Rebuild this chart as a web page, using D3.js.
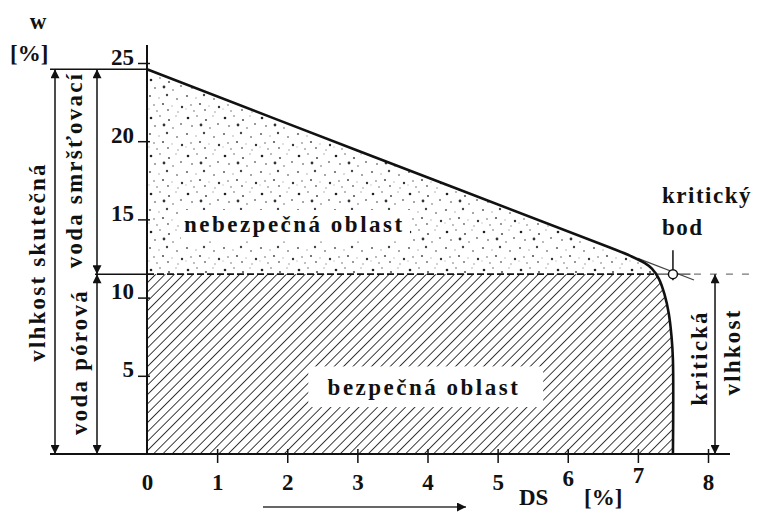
<!DOCTYPE html>
<html><head><meta charset="utf-8">
<script src="https://cdn.jsdelivr.net/npm/d3@7"></script>
<style>
body{margin:0;background:#fff;}
svg{display:block;font-family:"Liberation Serif","Times New Roman",serif;font-weight:bold;}
</style></head><body>
<svg id="c" width="757" height="513"></svg>
<script>
// ---- data ----
const xTicks = [0,1,2,3,4,5,6,7,8];
const yTicks = [5,10,15,20,25];
const curveDS = [0, 3, 6.6, 6.9, 7.1, 7.2, 7.3, 7.38, 7.44, 7.48, 7.5, 7.5];
const curveW  = [24.6, 19.4, 13.2, 12.65, 12.2, 11.85, 11.2, 10.2, 9.0, 7.5, 6.0, 0];
const wStart = 24.6;       // skutečná vlhkost
const criticalDS = 7.5;    // kritický bod
const criticalW = 11.5;    // kritická vlhkost
const areaLabels = ["nebezpečná oblast", "bezpečná oblast"];
const leftLabels = ["vlhkost skutečná", "voda smršťovací", "voda pórová"];
const rightLabels = ["kritická", "vlhkost"];
const pointLabels = ["kritický", "bod"];
const axisLabels = ["w", "[%]", "DS", "[%]"];

// ---- scales ----
const svg = d3.select("#c");
const x = d3.scaleLinear().domain([0, 8]).range([147, 708]);
const y = d3.scaleLinear().domain([0, 25]).range([454, 63]);
const ink = "#111";

const defs = svg.append("defs");
// stipple pattern (fixed texture tile)
const dots = [[3,4,1.3,"#222"],[12,2,0.9,"#999"],[21,6,1.1,"#555"],[28,2,0.8,"#aaa"],
  [7,12,1.0,"#888"],[16,11,1.4,"#333"],[25,14,0.9,"#999"],[2,20,1.1,"#666"],
  [11,22,0.8,"#aaa"],[19,19,1.2,"#444"],[29,23,1.0,"#888"],[6,29,0.9,"#999"],
  [15,28,1.1,"#555"],[24,30,0.8,"#bbb"],[33,10,1.0,"#777"],[34,31,1.2,"#333"],
  [9,35,1.0,"#aaa"],[20,34,0.9,"#666"],[30,36,0.8,"#999"],[1,33,0.7,"#bbb"]];
const dp = defs.append("pattern").attr("id","dots").attr("patternUnits","userSpaceOnUse")
  .attr("width",37).attr("height",38);
dp.selectAll("circle").data(dots).join("circle")
  .attr("cx",d=>d[0]).attr("cy",d=>d[1]).attr("r",d=>d[2]).attr("fill",d=>d[3]);
// hatch pattern
const hp = defs.append("pattern").attr("id","hatch").attr("patternUnits","userSpaceOnUse")
  .attr("width",6.6).attr("height",6.6).attr("patternTransform","rotate(45)");
hp.append("rect").attr("width",6.6).attr("height",6.6).attr("fill","#fff");
hp.append("line").attr("x1",0).attr("y1",0).attr("x2",0).attr("y2",6.6)
  .attr("stroke","#1a1a1a").attr("stroke-width",1.7);
// arrow marker
defs.append("marker").attr("id","arr").attr("viewBox","0 0 10 10").attr("refX",10).attr("refY",5)
  .attr("markerWidth",10).attr("markerHeight",9).attr("markerUnits","userSpaceOnUse")
  .attr("orient","auto-start-reverse")
  .append("path").attr("d","M0,0 L10,5 L0,10 Z").attr("fill",ink);

const pts = curveDS.map((d,i)=>[d, curveW[i]]);
// clips
defs.append("clipPath").attr("id","lower").append("rect")
  .attr("x",0).attr("y",y(criticalW)).attr("width",757).attr("height",y(0)-y(criticalW));
defs.append("clipPath").attr("id","upper").append("rect")
  .attr("x",0).attr("y",0).attr("width",757).attr("height",y(criticalW));

const area = d3.area().x(d=>x(d[0])).y0(y(0)).y1(d=>y(d[1])).curve(d3.curveCatmullRom.alpha(0.5));
svg.append("path").datum(pts).attr("d",area).attr("fill","url(#dots)").attr("clip-path","url(#upper)");
svg.append("path").datum(pts).attr("d",area).attr("fill","url(#hatch)").attr("clip-path","url(#lower)");

// white boxes behind area labels
svg.append("rect").attr("x",x(2.3)).attr("y",y(5.6)).attr("width",x(5.65)-x(2.3)).attr("height",y(3.0)-y(5.6))
  .attr("fill","#fff");
svg.append("rect").attr("x",x(0.48)).attr("y",y(15.6)).attr("width",x(3.75)-x(0.48)).attr("height",y(13.6)-y(15.6))
  .attr("fill","#fff");

// critical horizontal line
svg.append("line").attr("x1",95).attr("x2",x(0)).attr("y1",y(criticalW)).attr("y2",y(criticalW))
  .attr("stroke",ink).attr("stroke-width",1.5);
svg.append("line").attr("x1",x(0)).attr("x2",x(7.25)).attr("y1",y(criticalW)).attr("y2",y(criticalW))
  .attr("stroke",ink).attr("stroke-width",1.6).attr("stroke-dasharray","7,3");
svg.append("line").attr("x1",x(7.25)).attr("x2",x(7.75)).attr("y1",y(criticalW)).attr("y2",y(criticalW))
  .attr("stroke","#444").attr("stroke-width",1.2);
svg.append("line").attr("x1",x(7.8)).attr("x2",752).attr("y1",y(criticalW)).attr("y2",y(criticalW))
  .attr("stroke","#777").attr("stroke-width",1.2).attr("stroke-dasharray","7,9");

// tangent extension
const slope = (curveW[0]-curveW[2])/(curveDS[2]-curveDS[0]);
svg.append("line").attr("x1",x(7.0)).attr("y1",y(wStart - slope*7.0))
  .attr("x2",x(7.8)).attr("y2",y(wStart - slope*7.8)).attr("stroke","#444").attr("stroke-width",1.2);

// curve
const line = d3.line().x(d=>x(d[0])).y(d=>y(d[1])).curve(d3.curveCatmullRom.alpha(0.5));
svg.append("path").datum(pts).attr("d",line).attr("fill","none").attr("stroke",ink).attr("stroke-width",2.6);

// critical point
const cx = x(criticalDS), cy = y(criticalW);
svg.append("line").attr("x1",cx).attr("x2",cx).attr("y1",cy-24).attr("y2",cy+6).attr("stroke",ink).attr("stroke-width",1.5);
svg.append("circle").attr("cx",cx).attr("cy",cy).attr("r",4.5).attr("fill","#fff").attr("stroke",ink).attr("stroke-width",1.5);

// y axis
svg.append("line").attr("x1",x(0)).attr("x2",x(0)).attr("y1",45).attr("y2",y(0)).attr("stroke",ink).attr("stroke-width",2);
const ya = svg.append("g").attr("transform",`translate(${x(0)},0)`)
  .call(d3.axisLeft(y).tickValues(yTicks).tickSize(8).tickPadding(6).tickFormat(d3.format("d")));
ya.select(".domain").remove();
ya.selectAll(".tick line").attr("stroke",ink).attr("stroke-width",1.5).attr("x2",3).attr("x1",-9);
ya.selectAll(".tick text").attr("font-family","Liberation Serif").attr("font-weight","bold")
  .attr("font-size",23).attr("fill",ink).attr("dy","0.05em").attr("x",-13);

// x axis
svg.append("line").attr("x1",50).attr("x2",730).attr("y1",y(0)).attr("y2",y(0)).attr("stroke",ink).attr("stroke-width",2.2);
const xa = svg.append("g").attr("transform",`translate(0,${y(0)})`)
  .call(d3.axisBottom(x).tickValues(xTicks).tickSize(8).tickPadding(14).tickFormat(d3.format("d")));
xa.select(".domain").remove();
xa.selectAll(".tick line").attr("stroke",ink).attr("stroke-width",1.5).attr("y1",-5).attr("y2",9);
xa.selectAll(".tick text").attr("font-family","Liberation Serif").attr("font-weight","bold")
  .attr("font-size",23).attr("fill",ink)
  .attr("dy",d=> d===6 ? "0.42em" : d===7 ? "0.32em" : "0.62em");
xa.selectAll(".tick").filter(d=>d===0).select("line").remove();

// top horizontal line at w start
svg.append("line").attr("x1",50).attr("x2",x(0)).attr("y1",y(wStart)).attr("y2",y(wStart))
  .attr("stroke",ink).attr("stroke-width",1.5);

// double arrows
function dbl(xp, y1, y2){
  svg.append("line").attr("x1",xp).attr("x2",xp).attr("y1",y1).attr("y2",y2)
    .attr("stroke",ink).attr("stroke-width",1.5)
    .attr("marker-start","url(#arr)").attr("marker-end","url(#arr)");
}
dbl(55, y(wStart), y(0));
dbl(97, y(wStart), y(criticalW));
dbl(97, y(criticalW), y(0));
dbl(x(8.1), y(criticalW), y(0));

// texts
function vtext(str, xp, yc){
  svg.append("text").attr("transform",`translate(${xp},${yc}) rotate(-90)`)
    .attr("text-anchor","middle").attr("font-size",23).attr("letter-spacing",2.2)
    .attr("fill",ink).text(str);
}
vtext(leftLabels[0], 45, 262);
vtext(leftLabels[1], 82, 170);
vtext(leftLabels[2], 87, 362);
vtext(rightLabels[0], 707, 358);
vtext(rightLabels[1], 740, 352);

svg.append("text").attr("x",x(2.1)).attr("y",y(14.2)).attr("text-anchor","middle")
  .attr("font-size",23).attr("letter-spacing",2.5).attr("fill",ink).text(areaLabels[0]);
svg.append("text").attr("x",x(3.95)).attr("y",y(3.8)).attr("text-anchor","middle")
  .attr("font-size",23).attr("letter-spacing",2.5).attr("fill",ink).text(areaLabels[1]);

svg.append("text").attr("x",662).attr("y",203).attr("font-size",23).attr("letter-spacing",1.5).attr("fill",ink).text(pointLabels[0]);
svg.append("text").attr("x",662).attr("y",235).attr("font-size",23).attr("letter-spacing",1.5).attr("fill",ink).text(pointLabels[1]);

svg.append("text").attr("x",38).attr("y",29).attr("text-anchor","middle").attr("font-size",23).attr("fill",ink).text(axisLabels[0]);
svg.append("text").attr("x",10).attr("y",61).attr("font-size",23).attr("fill",ink).text(axisLabels[1]);
svg.append("text").attr("x",519).attr("y",505).attr("font-size",23).attr("fill",ink).text(axisLabels[2]);
svg.append("text").attr("x",584).attr("y",505).attr("font-size",23).attr("fill",ink).text(axisLabels[3]);

// DS direction arrow
svg.append("line").attr("x1",263).attr("x2",466).attr("y1",507).attr("y2",507)
  .attr("stroke","#333").attr("stroke-width",1.5).attr("marker-end","url(#arr)");
</script>
</body></html>
